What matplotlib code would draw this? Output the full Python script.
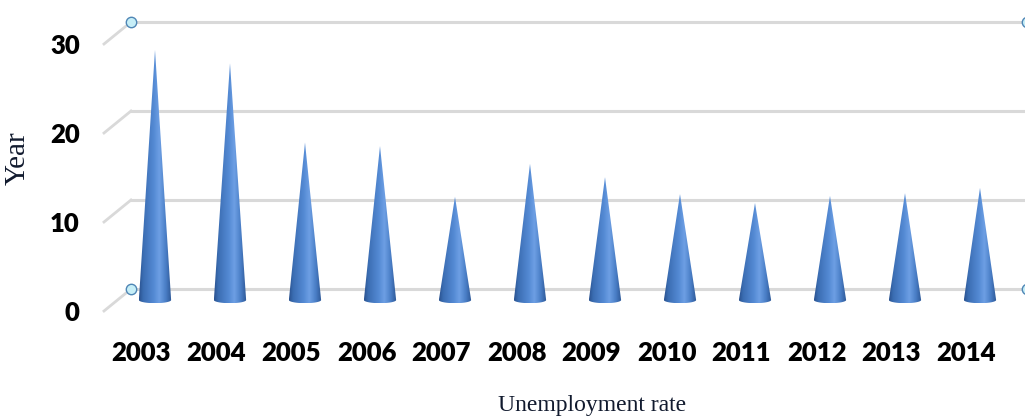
import numpy as np
import matplotlib
matplotlib.use("Agg")
import matplotlib.pyplot as plt
from matplotlib.transforms import ScaledTranslation
from matplotlib.patches import Polygon
from matplotlib.colors import LinearSegmentedColormap

# data
years = ['2003', '2004', '2005', '2006', '2007', '2008',
         '2009', '2010', '2011', '2012', '2013', '2014']
rates = [28.1, 26.6, 17.7, 17.3, 11.6, 15.3, 13.8, 11.9, 10.9, 11.7, 12.0, 12.6]
grid_values = [0, 10, 20, 30]

W, H, DPI = 1025, 417, 100
fig = plt.figure(figsize=(W / DPI, H / DPI), dpi=DPI)

# axes = middle depth plane of the pseudo 3d chart (where the cones stand)
x0, x1 = -0.9, 11.6
y0, y1 = -3.0, 32.0
left, right = 155 + 75 * x0, 155 + 75 * x1
top, bottom = 300 - 8.9 * y1, 300 - 8.9 * y0
ax = fig.add_axes([left / W, 1 - bottom / H, (right - left) / W, (bottom - top) / H])
ax.set_xlim(x0, x1)
ax.set_ylim(y0, y1)

# half of the depth shift, front plane and back wall
front = ScaledTranslation(-13.5 / DPI, -11 / DPI, fig.dpi_scale_trans)
back = ScaledTranslation(13.5 / DPI, 11 / DPI, fig.dpi_scale_trans)

grid_col = '#d9d9d9'
for v in grid_values:
    # back wall line
    ax.plot([-0.5, 12.5], [v, v], color=grid_col, lw=2.2,
            transform=ax.transData + back, clip_on=False, zorder=1)
    # slanted side line from front axis to back wall
    pf = (ax.transData + front).transform((-0.5, v))
    pb = (ax.transData + back).transform((-0.5, v))
    pts = fig.transFigure.inverted().transform([pf, pb])
    ax.plot(pts[:, 0], pts[:, 1], color=grid_col, lw=2.0,
            transform=fig.transFigure, clip_on=False, zorder=1)

# selection handles of the axis
for v in (grid_values[0], grid_values[-1]):
    for xh in (-0.5, 11.45):
        ax.plot([xh], [v], marker='o', ms=7.5, mfc='#c6eef7', mec='#4f86b5',
                mew=1.0, transform=ax.transData + back, clip_on=False, zorder=2)

# cones with a horizontal shading
cone_cmap = LinearSegmentedColormap.from_list(
    'cone', [(0.0, '#2a5290'), (0.12, '#3b6db2'), (0.45, '#548ad4'),
             (0.62, '#6d9fe4'), (0.82, '#4a7ec6'), (1.0, '#2c5694')])
grad = np.linspace(0, 1, 64).reshape(1, -1)
w, b = 0.215, 0.36
t = np.linspace(np.pi, 2 * np.pi, 40)
for i, v in enumerate(rates):
    verts = [(i, v)] + list(zip(i + w * np.cos(t), b * np.sin(t)))
    poly = Polygon(verts, closed=True, facecolor='none', edgecolor='none')
    ax.add_patch(poly)
    im = ax.imshow(grad, extent=(i - w, i + w, -b, v), aspect='auto',
                   cmap=cone_cmap, interpolation='bilinear', zorder=3)
    im.set_clip_path(poly)

ax.set_xlim(x0, x1)
ax.set_ylim(y0, y1)
for s in ax.spines.values():
    s.set_visible(False)

tick_font = dict(family='Lato', weight='heavy', size=18.5)
ax.set_yticks(grid_values)
ax.set_yticklabels([str(v) for v in grid_values], **tick_font)
ax.set_xticks(range(len(years)))
ax.set_xticklabels(years, **tick_font)
ax.tick_params(axis='y', length=0, pad=5.5)
ax.tick_params(axis='x', length=0, pad=10)
for lbl in ax.get_yticklabels():
    lbl.set_transform(lbl.get_transform() + ScaledTranslation(0, -11 / DPI, fig.dpi_scale_trans))
for lbl in ax.get_xticklabels():
    lbl.set_transform(lbl.get_transform() + ScaledTranslation(-13.5 / DPI, 0, fig.dpi_scale_trans))

ax.set_ylabel('Year', family='Liberation Serif', size=21, color='#111a2e')
ax.yaxis.set_label_coords((18 - left) / (right - left), (bottom - 158) / (bottom - top))
ax.set_xlabel('Unemployment rate', family='Liberation Serif', size=17, color='#111a2e')
ax.xaxis.set_label_coords((592 - left) / (right - left), (bottom - 405) / (bottom - top))
ax.xaxis.label.set_va('center')
ax.yaxis.label.set_va('center')

fig.savefig('out.png', dpi=DPI)
